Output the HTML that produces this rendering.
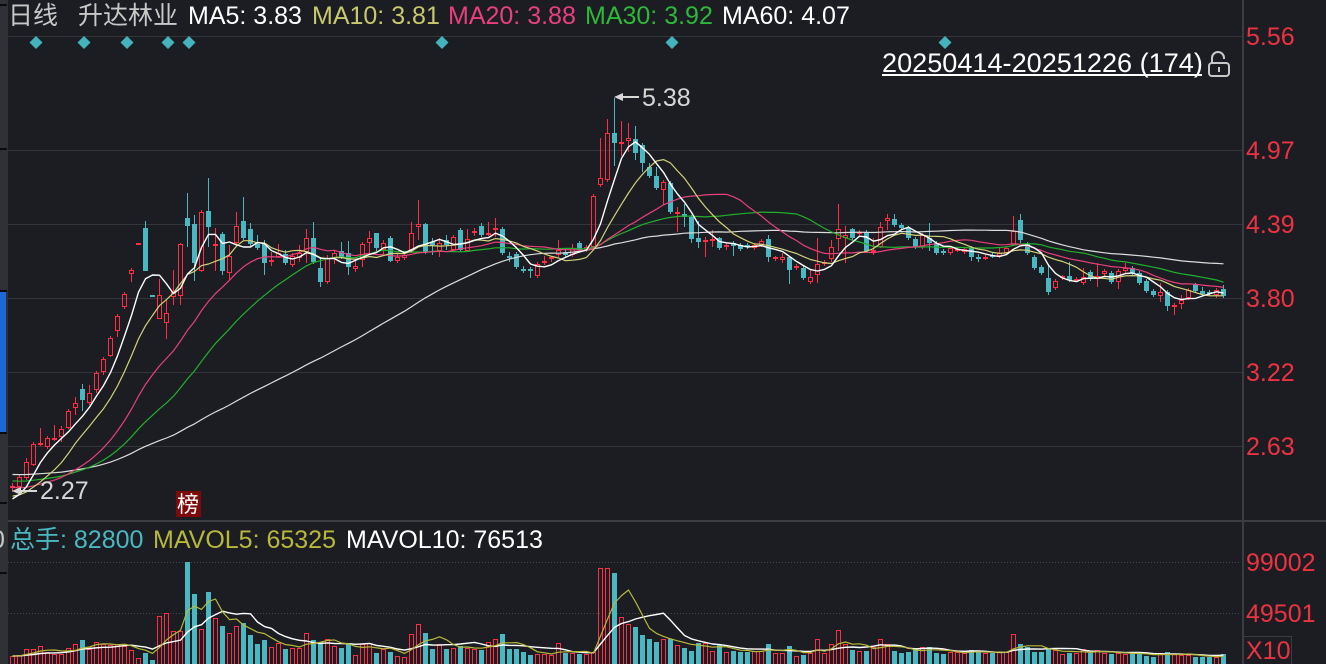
<!DOCTYPE html>
<html><head><meta charset="utf-8">
<style>
html,body{margin:0;padding:0;background:#1b1d22;}
#c{position:relative;width:1326px;height:664px;overflow:hidden;background:#1b1d22;}
svg{position:absolute;left:0;top:0;font-family:"Liberation Sans","Noto Sans CJK SC",sans-serif;}
</style></head><body>
<div id="c">
<svg id="s" width="1326" height="664" xmlns="http://www.w3.org/2000/svg">
<!-- left strip -->
<rect x="0" y="0" width="8" height="664" fill="#303137"/>
<rect x="0" y="292" width="6" height="140" fill="#1d68d8"/>
<g fill="#0b0b0d">
<rect x="0" y="4" width="7" height="2"/><rect x="0" y="148" width="7" height="2"/>
<rect x="0" y="290" width="7" height="2"/><rect x="0" y="432" width="7" height="2"/>
<rect x="0" y="502" width="7" height="2"/><rect x="0" y="572" width="7" height="2"/>
</g>
<text x="-9" y="548" font-size="25" fill="#c8c8c8">0</text>
<!-- grid -->
<g stroke="#34353a" stroke-width="1">
<line x1="8" y1="36.5" x2="1242" y2="36.5"/>
<line x1="8" y1="150.5" x2="1242" y2="150.5"/>
<line x1="8" y1="224.5" x2="1242" y2="224.5"/>
<line x1="8" y1="298.5" x2="1242" y2="298.5"/>
<line x1="8" y1="372.5" x2="1242" y2="372.5"/>
<line x1="8" y1="446.5" x2="1242" y2="446.5"/>
</g>
<g stroke="#45474c" stroke-width="1" stroke-dasharray="1 2">
<line x1="8" y1="562.5" x2="1240" y2="562.5"/>
<line x1="8" y1="613.5" x2="1240" y2="613.5"/>
</g>
<rect x="8" y="520" width="1318" height="2" fill="#3c3d42"/>
<rect x="1242" y="0" width="2" height="664" fill="#3c3d42"/>
<rect x="1243.5" y="636.5" width="48" height="28" fill="none" stroke="#3c3d42"/>
<g id="g"></g>
<!-- diamonds -->
<g fill="#45b3bd">
<polygon points="36,36 42.5,42.5 36,49 29.5,42.5"/>
<polygon points="84,36 90.5,42.5 84,49 77.5,42.5"/>
<polygon points="127,36 133.5,42.5 127,49 120.5,42.5"/>
<polygon points="168,36 174.5,42.5 168,49 161.5,42.5"/>
<polygon points="189,36 195.5,42.5 189,49 182.5,42.5"/>
<polygon points="442,36 448.5,42.5 442,49 435.5,42.5"/>
<polygon points="672,36 678.5,42.5 672,49 665.5,42.5"/>
<polygon points="945,36 951.5,42.5 945,49 938.5,42.5"/>
</g>
<!-- header -->
<g font-size="25">
<text x="8" y="24" fill="#c8c8c8">日线</text>
<text x="78" y="24" fill="#c8c8c8">升达林业</text>
<text x="188" y="24" fill="#ffffff">MA5: 3.83</text>
<text x="312" y="24" fill="#c8c86c">MA10: 3.81</text>
<text x="448" y="24" fill="#e8407c">MA20: 3.88</text>
<text x="585" y="24" fill="#2eb83a">MA30: 3.92</text>
<text x="722" y="24" fill="#ffffff">MA60: 4.07</text>
</g>
<!-- range label -->
<text x="882" y="72" font-size="27.1" fill="#ffffff">20250414-20251226 (174)</text>
<rect x="882" y="74" width="320" height="2" fill="#ffffff"/>
<g fill="none" stroke="#c8c8c8" stroke-width="2">
<rect x="1209" y="63" width="20" height="13" rx="3"/>
<path d="M1212 63 V58 A6 6 0 0 1 1224 58 V59"/>
<line x1="1219" y1="67" x2="1219" y2="72"/>
</g>
<!-- price axis -->
<g font-size="25" fill="#eb3341">
<text x="1246" y="45">5.56</text>
<text x="1246" y="159">4.97</text>
<text x="1246" y="233">4.39</text>
<text x="1246" y="307">3.80</text>
<text x="1246" y="381">3.22</text>
<text x="1246" y="455">2.63</text>
<text x="1246" y="571">99002</text>
<text x="1246" y="622">49501</text>
<text x="1246" y="659">X10</text>
</g>
<!-- volume header -->
<g font-size="25">
<text x="10" y="548" fill="#4ab8c2">总手: 82800</text>
<text x="153" y="548" fill="#b8b83a">MAVOL5: 65325</text>
<text x="346" y="548" fill="#ffffff">MAVOL10: 76513</text>
</g>
<!-- markers -->
<g fill="#d8d8d8" stroke="#d8d8d8">
<line x1="20" y1="491" x2="37" y2="491" stroke-width="2"/>
<polygon points="12,491 21,487 21,495" stroke="none"/>
<line x1="622" y1="97" x2="639" y2="97" stroke-width="2"/>
<polygon points="614,97 623,93 623,101" stroke="none"/>
</g>
<text x="40" y="499" font-size="25" fill="#d6d6d6">2.27</text>
<text x="642" y="106" font-size="25" fill="#d6d6d6">5.38</text>
<rect x="176" y="491" width="25" height="26" fill="#7d0a0a"/>
<text x="177" y="512" font-size="22" fill="#ffffff">榜</text>
</svg>
</div>
<script>
var D=[
[1,486,488,483,492],[1,477,487,474,489],[1,462,478,458,480],[1,444,465,442,466],[1,443,445,428,446],
[1,438,447,436,449],[1,438,440,425,441],[1,429,437,426,442],[1,411,428,409,429],[1,403,408,397,415],
[0,389,400,384,411],[1,393,403,385,405],[1,373,390,371,393],[1,359,372,357,375],[1,338,356,336,357],
[1,316,331,314,337],[1,294,307,292,309],[1,270,274,268,282],[1,243,245,243,245],[0,228,271,221,271],
[0,295,297,295,297],[1,295,319,279,319],[1,313,323,300,339],[1,292,297,270,305],[1,244,296,243,305],
[0,218,226,193,247],[0,224,263,215,281],[1,212,271,210,272],[0,211,227,178,247],[1,244,246,228,271],
[0,234,271,232,275],[1,256,273,245,280],[1,226,243,212,245],[0,221,238,197,240],[0,229,244,223,246],
[0,244,248,235,250],[0,244,263,240,275],[1,260,262,252,266],[1,253,257,244,258],[0,254,263,250,265],
[1,256,265,253,267],[1,253,258,245,262],[1,238,252,229,263],[0,238,262,222,264],[0,268,282,257,287],
[1,258,282,255,284],[1,253,258,251,264],[0,251,257,242,259],[0,253,267,241,275],[1,266,269,260,272],
[1,244,260,242,267],[1,238,243,231,253],[0,233,248,233,252],[1,243,250,240,255],[0,238,261,236,262],
[1,257,261,254,263],[1,255,258,252,260],[1,233,250,222,253],[1,224,227,200,240],[0,224,252,223,254],
[0,242,245,238,255],[1,243,251,238,257],[0,240,245,235,250],[1,237,250,235,252],[0,230,250,228,252],
[1,239,251,229,252],[1,231,233,228,236],[0,226,235,223,237],[1,233,235,222,236],[1,228,230,218,237],
[0,229,253,227,255],[0,256,258,252,262],[0,254,267,252,269],[0,269,271,266,273],[0,269,271,267,278],
[1,264,276,262,278],[1,261,263,256,265],[1,257,259,256,262],[1,250,255,240,257],[0,252,255,248,257],
[1,248,255,244,257],[0,243,250,241,252],[1,247,250,245,252],[1,196,247,194,248],[1,178,185,138,187],
[1,133,180,119,182],[0,133,143,98,166],[1,142,144,121,156],[1,138,141,123,152],[0,139,153,126,160],
[0,145,163,143,172],[0,167,176,163,178],[0,176,188,167,190],[1,182,190,180,205],[0,183,212,181,214],
[1,212,214,207,232],[0,214,217,204,227],[0,217,239,215,243],[0,238,242,221,248],[1,240,241,237,257],
[1,239,241,230,247],[0,238,248,237,250],[1,245,247,243,250],[0,243,246,241,256],[0,245,249,243,251],
[0,245,247,243,249],[1,245,248,243,250],[1,241,245,239,247],[0,239,257,235,262],[1,257,259,256,261],
[1,257,260,253,263],[0,257,270,256,284],[1,266,268,264,270],[0,268,278,266,280],[1,277,282,270,284],
[1,264,275,238,283],[1,262,264,260,266],[1,247,259,240,262],[1,229,239,204,251],[1,235,238,226,263],
[0,229,238,228,240],[1,232,234,230,236],[0,232,251,230,253],[1,250,252,238,255],[1,227,247,222,248],
[1,218,221,214,230],[0,219,225,214,227],[0,225,228,223,230],[0,228,238,226,240],[0,239,247,237,249],
[1,235,247,233,249],[0,238,243,223,251],[0,243,253,241,255],[0,251,253,249,255],[1,248,253,246,255],
[1,249,250,247,252],[1,249,252,247,254],[0,248,257,246,261],[0,257,258,254,262],[1,257,258,255,260],
[0,255,257,253,258],[1,253,256,248,258],[1,248,253,247,254],[1,231,245,216,246],[0,220,240,214,243],
[0,244,253,242,255],[0,257,268,255,270],[0,267,273,265,275],[0,278,292,264,295],[1,281,288,279,290],
[1,276,278,275,280],[0,276,280,262,282],[1,279,281,277,282],[1,277,283,268,285],[0,272,279,270,281],
[1,276,279,263,287],[1,271,274,269,276],[0,273,282,271,284],[1,271,282,269,289],[1,268,271,263,273],
[0,268,273,266,275],[0,273,283,271,285],[0,281,291,279,293],[0,291,295,289,297],[1,292,296,283,302],
[0,292,306,290,311],[1,305,307,303,315],[1,300,304,295,309],[1,290,298,288,300],[0,284,291,283,293],
[0,291,294,287,296],[0,292,294,290,296],[1,290,295,288,298],[0,289,296,285,298]
];
var V=[656,655,649,649,646,652,654,654,648,644,640,649,642,644,645,644,646,650,658,653,
660,616,613,631,631,562,594,629,592,618,626,633,626,623,635,644,640,647,643,649,
648,648,633,640,642,639,646,648,644,655,644,643,653,649,652,656,657,634,624,633,
649,644,649,648,646,648,649,650,642,639,634,649,649,652,655,654,654,655,643,653,
653,654,654,652,568,568,573,617,624,627,635,639,642,639,639,645,648,651,643,643,
651,645,652,651,652,652,651,651,644,653,653,646,656,655,653,639,653,644,630,644,
650,651,651,647,639,644,651,653,652,650,647,647,653,654,652,652,653,650,652,653,
653,652,652,634,644,647,652,652,648,650,654,653,653,649,653,650,653,654,653,654,
653,653,656,657,654,652,654,655,655,657,657,657,657,654];
var RED='#ff2e43',CY='#4ab8c2';
var h='';
var vol='';
for(var i=0;i<D.length;i++){
  var d=D[i],r=d[0],t=d[1],b=d[2],hi=d[3],lo=d[4];
  var L=10+7*i,cx=L+2.5,col=r?RED:CY;
  var vt=V[i];
  if(r){vol+='<rect x="'+(L+0.5)+'" y="'+(vt+0.5)+'" width="4" height="'+(664-vt+2)+'" fill="none" stroke="'+col+'"/>';}
  else{vol+='<rect x="'+L+'" y="'+vt+'" width="5" height="'+(664-vt+1)+'" fill="'+col+'"/>';}
  if(b-t<=2){
    h+='<line x1="'+cx+'" y1="'+hi+'" x2="'+cx+'" y2="'+lo+'" stroke="'+col+'"/>';
    h+='<rect x="'+L+'" y="'+t+'" width="5" height="'+Math.max(2,b-t)+'" fill="'+col+'"/>';
  }else if(r){
    if(hi<t)h+='<line x1="'+cx+'" y1="'+hi+'" x2="'+cx+'" y2="'+t+'" stroke="'+col+'"/>';
    if(lo>b)h+='<line x1="'+cx+'" y1="'+b+'" x2="'+cx+'" y2="'+lo+'" stroke="'+col+'"/>';
    h+='<rect x="'+(L+0.5)+'" y="'+(t+0.5)+'" width="4" height="'+(b-t-1)+'" fill="none" stroke="'+col+'"/>';
  }else{
    h+='<line x1="'+cx+'" y1="'+hi+'" x2="'+cx+'" y2="'+lo+'" stroke="'+col+'"/>';
    h+='<rect x="'+L+'" y="'+t+'" width="5" height="'+(b-t)+'" fill="'+col+'"/>';
  }
}
var P=[];for(var k=0;k<40;k++)P.push(468);for(var k=0;k<20;k++)P.push(468+37*k/19);
var C=P.slice();for(var i=0;i<D.length;i++)C.push(D[i][0]?D[i][1]:D[i][2]);
function ma(arr,pre,n,col,w){
  var pts=[];
  for(var i=0;i<D.length;i++){var s=0;for(var j=0;j<n;j++)s+=arr[pre+i-j];pts.push((12.5+7*i)+','+(s/n).toFixed(1));}
  return '<polyline points="'+pts.join(' ')+'" fill="none" stroke="'+col+'" stroke-width="'+(w||1.2)+'" stroke-linejoin="round"/>';
}
var lines='';
lines+=ma(C,60,60,'#dcdcdc');
lines+=ma(C,60,30,'#22b02c');
lines+=ma(C,60,20,'#e8407c');
lines+=ma(C,60,10,'#d2d27a');
lines+=ma(C,60,5,'#ffffff',1.4);
var VV=[];for(var k=0;k<10;k++)VV.push(656);for(var i=0;i<V.length;i++)VV.push(V[i]);
var vlines=ma(VV,10,10,'#ffffff',1.4)+ma(VV,10,5,'#b8b83a',1.2);
document.getElementById('g').innerHTML=vol+vlines+h+lines;
</script>
</body></html>
